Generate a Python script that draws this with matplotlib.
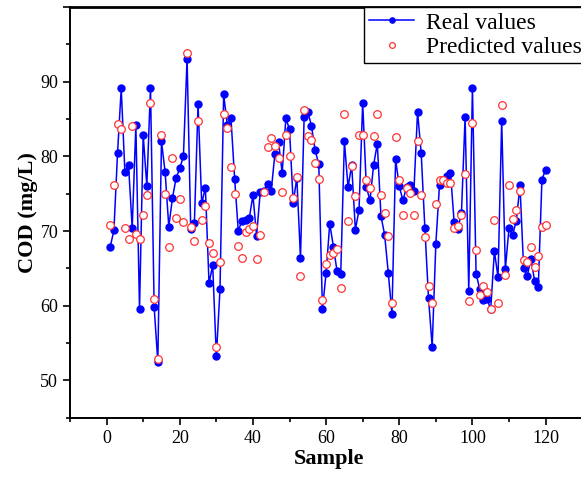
import matplotlib.pyplot as plt
import numpy as np
from matplotlib.ticker import MultipleLocator

# values
samples = np.arange(1, 121)
real_values = [
    67.9, 70.1, 80.5, 89.1, 77.9, 78.8, 70.4, 84.2, 59.5, 82.9,
    76.0, 89.2, 59.8, 52.5, 82.0, 77.9, 70.6, 74.4, 77.1, 78.4,
    80.0, 93.1, 70.3, 71.1, 87.0, 73.7, 75.8, 63.0, 65.4, 53.2,
    62.2, 88.3, 84.2, 85.1, 77.0, 70.0, 71.4, 71.5, 71.7, 74.8,
    69.4, 75.2, 75.4, 76.3, 75.4, 80.3, 81.9, 77.8, 85.1, 83.6,
    73.8, 77.1, 66.4, 85.3, 86.0, 84.1, 80.8, 79.0, 59.5, 64.4,
    71.0, 67.9, 64.6, 64.2, 82.0, 75.9, 78.8, 70.2, 72.8, 87.2,
    75.9, 74.1, 78.9, 81.7, 72.0, 69.5, 64.4, 58.9, 79.6, 76.0,
    74.1, 75.9, 76.2, 75.3, 86.0, 80.4, 70.4, 61.0, 54.5, 68.3,
    76.2, 76.7, 77.4, 77.8, 71.2, 70.3, 72.4, 85.3, 62.0, 89.2,
    64.3, 62.2, 60.8, 60.9, 59.5, 67.3, 63.8, 84.8, 64.9, 70.4,
    69.5, 71.4, 76.1, 65.0, 64.0, 66.3, 63.3, 62.5, 76.9, 78.2,
]
predicted_values = [
    70.8, 76.2, 84.3, 83.7, 70.4, 69.0, 84.1, 69.6, 69.0, 72.2,
    74.8, 87.2, 60.9, 52.8, 82.8, 75.0, 67.9, 79.8, 71.7, 74.3,
    71.2, 93.9, 70.5, 68.6, 84.7, 71.5, 73.3, 68.4, 67.0, 54.5,
    65.9, 85.7, 83.8, 78.6, 75.0, 68.0, 66.4, 69.9, 70.3, 70.7,
    66.2, 69.5, 75.2, 81.3, 82.5, 81.4, 79.8, 75.2, 82.8, 80.0,
    74.4, 77.3, 64.0, 86.2, 82.7, 82.2, 79.1, 77.0, 60.8, 65.6,
    66.8, 67.1, 67.6, 62.4, 85.7, 71.3, 78.7, 74.7, 82.8, 82.8,
    76.8, 75.7, 82.7, 85.7, 74.8, 72.4, 69.3, 60.4, 82.6, 76.9,
    72.1, 75.7, 75.1, 72.2, 82.1, 74.8, 69.2, 62.7, 60.3, 73.6,
    76.9, 76.8, 76.5, 76.5, 70.4, 70.7, 72.1, 77.7, 60.6, 84.5,
    67.5, 61.4, 62.7, 61.9, 59.5, 71.5, 60.4, 86.9, 64.1, 76.1,
    71.6, 72.8, 75.4, 66.1, 65.9, 67.9, 65.2, 66.7, 70.5, 70.8,
]

plt.rcParams['font.family'] = ['Liberation Serif', 'DejaVu Serif']

fig = plt.figure(figsize=(5.81, 4.82), dpi=100)
# right edge runs past the figure, as in the cropped original
ax = fig.add_axes([0.1205, 0.1334, 0.8916, 0.852])

ax.plot(samples, real_values, color='blue', lw=1.1, marker='o', ms=5,
        mfc='blue', mec='blue', label='Real values')
ax.plot(samples, predicted_values, ls='none', marker='o', ms=5.5,
        mfc='white', mec='#ff3333', mew=0.9, label='Predicted values')

ax.set_xlim(-10, 131.6)
ax.set_ylim(45, 100)
ax.xaxis.set_major_locator(MultipleLocator(20))
ax.xaxis.set_minor_locator(MultipleLocator(10))
ax.yaxis.set_major_locator(MultipleLocator(10))
ax.yaxis.set_minor_locator(MultipleLocator(5))
ax.xaxis.set_major_formatter(lambda v, p: '' if v > 120 or v < 0 else f'{v:.0f}')
ax.yaxis.set_major_formatter(lambda v, p: '' if v > 90 or v < 50 else f'{v:.0f}')
ax.tick_params(which='both', direction='out', top=False, right=False,
               labelsize=13, width=1.2)
ax.tick_params(which='major', length=5)
ax.tick_params(which='minor', length=3)
for s in ax.spines.values():
    s.set_linewidth(1.4)
ax.spines['top'].set_linewidth(2.0)

ax.set_xlabel('Sample', fontsize=16, fontweight='bold', labelpad=2)
ax.set_ylabel('COD (mg/L)', fontsize=16, fontweight='bold', labelpad=2)

leg = ax.legend(loc='upper right', bbox_to_anchor=(0.998, 1.0), fontsize=17,
                fancybox=False, edgecolor='black', framealpha=1,
                borderaxespad=0, handlelength=1.9, handletextpad=0.5,
                borderpad=0.22, labelspacing=0.12, markerscale=0.75)
leg.get_frame().set_linewidth(1.0)

fig.savefig('out.png', dpi=100)
